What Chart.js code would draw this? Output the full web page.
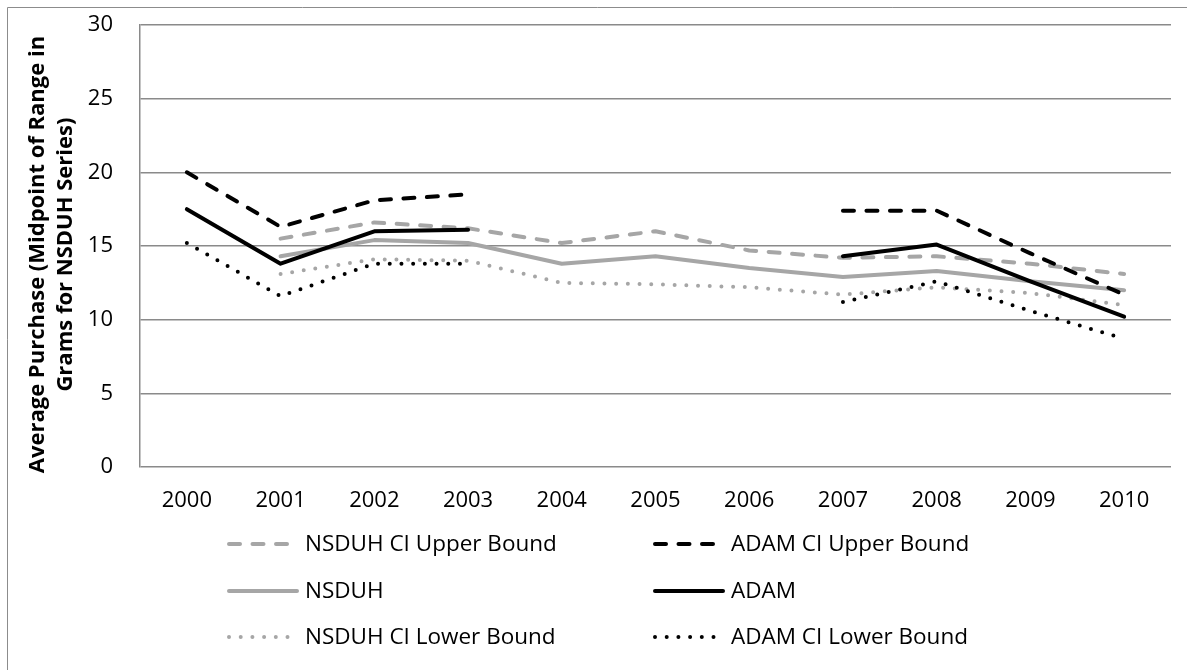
<!DOCTYPE html>
<html>
<head>
<meta charset="utf-8">
<script src="https://cdn.jsdelivr.net/npm/chart.js@4.4.1/dist/chart.umd.min.js"></script>
<style>
  body { margin: 0; background: #fff; }
  canvas { display: block; }
</style>
</head>
<body>
<canvas id="chart" width="1187" height="670"></canvas>
<script>
const years = ['2000', '2001', '2002', '2003', '2004', '2005', '2006', '2007', '2008', '2009', '2010'];

const nsduhUpper = [null, 15.5, 16.6, 16.2, 15.2, 16.0, 14.7, 14.2, 14.3, 13.8, 13.1];
const nsduh      = [null, 14.3, 15.4, 15.2, 13.8, 14.3, 13.5, 12.9, 13.3, 12.6, 12.0];
const nsduhLower = [null, 13.1, 14.1, 14.0, 12.5, 12.4, 12.2, 11.7, 12.2, 11.8, 11.0];
const adamUpper  = [20.0, 16.3, 18.1, 18.5, null, null, null, 17.4, 17.4, 14.5, 11.7];
const adam       = [17.5, 13.8, 16.0, 16.1, null, null, null, 14.3, 15.1, 12.6, 10.2];
const adamLower  = [15.2, 11.6, 13.8, 13.8, null, null, null, 11.2, 12.6, 10.6, 8.7];

const yTicks = [0, 5, 10, 15, 20, 25, 30];

const GRAY = '#a6a6a6';
const BLACK = '#000000';
const DASH = [11, 12.5];
const DOT = [0, 11.7];
const FONT = 'Open Sans';

// line style for each series, shared by the chart and the legend
function series(label, data, color, dash) {
  return {
    label: label,
    data: data,
    borderColor: color,
    backgroundColor: color,
    borderWidth: 4,
    borderDash: dash,
    borderCapStyle: 'round',
    borderJoinStyle: 'round',
    pointRadius: 0,
    tension: 0,
    spanGaps: false
  };
}

// black series first so they sit on top of the gray ones
const datasets = [
  series('ADAM CI Upper Bound', adamUpper, BLACK, DASH),
  series('ADAM', adam, BLACK, []),
  series('ADAM CI Lower Bound', adamLower, BLACK, DOT),
  series('NSDUH CI Upper Bound', nsduhUpper, GRAY, DASH),
  series('NSDUH', nsduh, GRAY, []),
  series('NSDUH CI Lower Bound', nsduhLower, GRAY, DOT)
];

// legend grid: [label, column, row]
const legendLayout = [
  ['NSDUH CI Upper Bound', 0, 0], ['ADAM CI Upper Bound', 1, 0],
  ['NSDUH', 0, 1], ['ADAM', 1, 1],
  ['NSDUH CI Lower Bound', 0, 2], ['ADAM CI Lower Bound', 1, 2]
];

const legendPlugin = {
  id: 'gridLegend',
  afterDraw(chart) {
    const ctx = chart.ctx;
    const colX = [229, 655];
    const rowY = [544, 591, 637];
    ctx.save();
    legendLayout.forEach(([label, col, row]) => {
      const ds = chart.data.datasets.find(d => d.label === label);
      const x = colX[col], y = rowY[row];
      const len = ds.borderDash.length ? 60 : 68;
      ctx.beginPath();
      ctx.strokeStyle = ds.borderColor;
      ctx.lineWidth = ds.borderWidth;
      ctx.lineCap = 'round';
      ctx.setLineDash(ds.borderDash);
      ctx.moveTo(x, y);
      ctx.lineTo(x + len, y);
      ctx.stroke();
      ctx.setLineDash([]);
      ctx.fillStyle = '#000';
      ctx.font = '22.5px "' + FONT + '"';
      ctx.textBaseline = 'middle';
      ctx.textAlign = 'left';
      ctx.fillText(label, x + 76, y + 1);
    });
    // chart frame (right and bottom edges fall outside the picture)
    ctx.strokeStyle = '#8c8c8c';
    ctx.lineWidth = 1;
    ctx.beginPath();
    ctx.moveTo(7.5, chart.height + 5);
    ctx.lineTo(7.5, 7.5);
    ctx.lineTo(chart.width + 5, 7.5);
    ctx.stroke();
    ctx.restore();
  }
};

new Chart(document.getElementById('chart'), {
  type: 'line',
  data: { labels: years, datasets: datasets },
  plugins: [legendPlugin],
  options: {
    responsive: false,
    animation: false,
    layout: { padding: { left: 24, right: 16, top: 25, bottom: 0 } },
    plugins: { legend: { display: false }, tooltip: { enabled: false } },
    scales: {
      x: {
        offset: true,
        grid: { display: false, drawTicks: false },
        border: { display: false },
        ticks: { color: '#000', padding: 21, font: { family: FONT, size: 22 } },
        afterFit(scale) { scale.height = 203; }
      },
      y: {
        min: 0,
        max: 30,
        afterBuildTicks(scale) { scale.ticks = yTicks.map(v => ({ value: v })); },
        grid: { color: '#8a8a8a', lineWidth: 1.5, drawTicks: false },
        border: { display: true, color: '#8a8a8a', width: 1.5 },
        ticks: { color: '#000', padding: 27, font: { family: FONT, size: 22 } },
        title: {
          display: true,
          text: ['Average Purchase (Midpoint of Range in   ', 'Grams for NSDUH Series)   '],
          color: '#000',
          padding: { top: 0, bottom: 0 },
          font: { family: FONT, size: 22, weight: 'bold', lineHeight: 1.25 }
        },
        afterFit(scale) {
          scale.width = 116;
          scale.paddingTop = 0;
          scale.paddingBottom = 0;
        }
      }
    }
  }
});
</script>
</body>
</html>
